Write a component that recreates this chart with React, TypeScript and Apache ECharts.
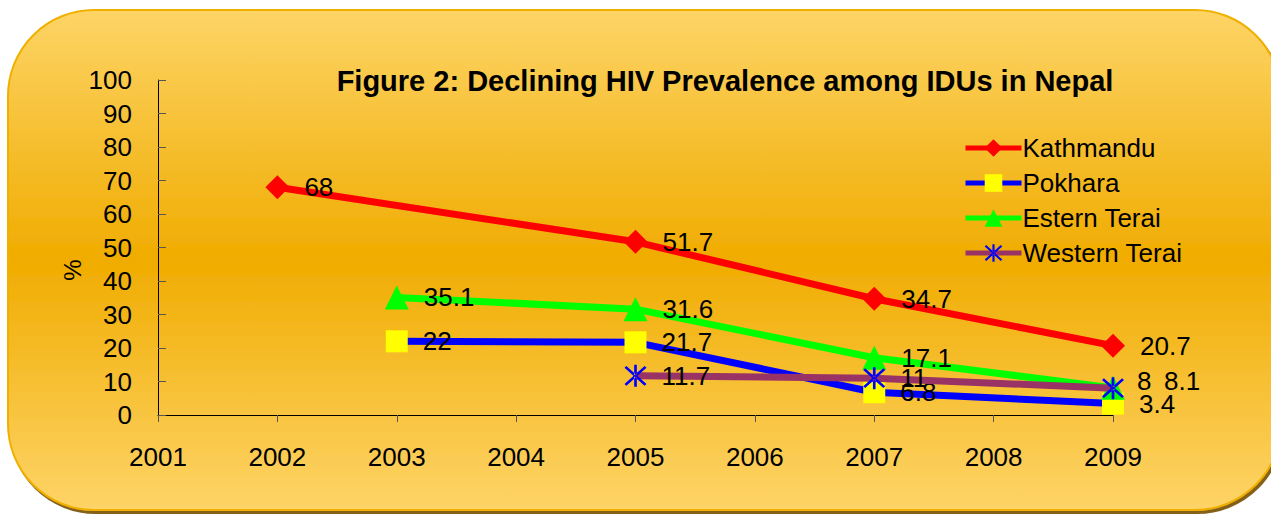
import React, { useEffect, useRef } from "react";
import * as echarts from "echarts";

const years = [2001, 2002, 2003, 2004, 2005, 2006, 2007, 2008, 2009];
const seriesNames = ["Kathmandu", "Pokhara", "Estern Terai", "Western Terai"];
const kathmandu: [number, number][] = [[2002, 68], [2005, 51.7], [2007, 34.7], [2009, 20.7]];
const pokhara: [number, number][] = [[2003, 22], [2005, 21.7], [2007, 6.8], [2009, 3.4]];
const esternTerai: [number, number][] = [[2003, 35.1], [2005, 31.6], [2007, 17.1], [2009, 8.1]];
const westernTerai: [number, number][] = [[2005, 11.7], [2007, 11], [2009, 8]];
const yTicks = [0, 10, 20, 30, 40, 50, 60, 70, 80, 90, 100];

const FONT = "'Liberation Sans', Arial, sans-serif";

const asterisk =
  "path://M-1.2,-11 L1.2,-11 L1.2,11 L-1.2,11 Z " +
  "M-9.85,-8.15 L8.15,9.85 L9.85,8.15 L-8.15,-9.85 Z " +
  "M-8.15,9.85 L9.85,-8.15 L8.15,-9.85 L-9.85,8.15 Z";

export default function App() {
  const ref = useRef<HTMLDivElement>(null);
  useEffect(() => {
    if (!ref.current) return;
    const chart = echarts.init(ref.current, undefined, { renderer: "svg" });
    const label = {
      show: true,
      position: "right" as const,
      distance: 15,
      color: "#000",
      fontSize: 26,
      fontFamily: FONT,
    };
    const mk = (
      name: string,
      data: any[],
      lineColor: string,
      symbol: string,
      symbolSize: number,
      symColor: string,
      z: number
    ) => ({
      name,
      type: "line",
      data,
      symbol,
      symbolSize,
      showAllSymbol: true,
      lineStyle: { color: lineColor, width: 7 },
      itemStyle: { color: symColor, borderWidth: 0 },
      label,
      z,
    });
    const plain = (arr: [number, number][]) => arr.map((d) => ({ value: d }));
    const esternData = esternTerai.map((d, i) =>
      i === esternTerai.length - 1
        ? { value: d, label: { offset: [24, -7] } }
        : { value: d }
    );
    const westernData = westernTerai.map((d, i) =>
      i === westernTerai.length - 1 ? { value: d, label: { offset: [-2, -7] } } : { value: d }
    );
    const series = [
      mk(seriesNames[0], plain(kathmandu), "#FF0000", "diamond", 24, "#FF0000", 5),
      mk(seriesNames[1], plain(pokhara), "#0000FF", "rect", 22, "#FFFF00", 3),
      mk(seriesNames[2], esternData, "#00FF00", "triangle", 24, "#00FF00", 4),
      mk(seriesNames[3], westernData, "#993366", asterisk, 22, "#0000FF", 6),
    ];

    chart.setOption({
      animation: false,
      graphic: [
        {
          type: "rect",
          z: -10,
          silent: true,
          shape: { x: 8, y: 10, width: 1273, height: 500, r: 86 },
          style: {
            fill: new echarts.graphic.LinearGradient(0, 0, 0, 1, [
              { offset: 0, color: "#FDD466" },
              { offset: 0.5, color: "#F0AC00" },
              { offset: 1, color: "#FED468" },
            ]),
            stroke: "#F0B000",
            lineWidth: 2,
            shadowColor: "rgba(120,80,0,0.9)",
            shadowBlur: 1,
            shadowOffsetX: 2,
            shadowOffsetY: 3,
          },
        },
        {
          type: "text",
          x: 72,
          y: 270,
          rotation: Math.PI / 2,
          style: {
            text: "%",
            align: "center",
            verticalAlign: "middle",
            font: `24px ${FONT}`,
            fill: "#000",
          },
        },
      ],
      title: {
        text: "Figure 2: Declining HIV Prevalence among IDUs in Nepal",
        left: 720,
        textAlign: "center",
        top: 61,
        textStyle: { fontSize: 29, fontWeight: "bold", fontFamily: FONT, color: "#000" },
      },
      legend: {
        orient: "vertical",
        left: 958,
        top: 130,
        itemWidth: 56,
        itemHeight: 22,
        itemGap: 9,
        lineStyle: { width: 5 },
        textStyle: { fontSize: 26, fontFamily: FONT, color: "#000", padding: [0, 0, 0, -4] },
        data: seriesNames,
      },
      grid: { left: 158, right: 158, top: 80, bottom: 99, containLabel: false },
      xAxis: {
        type: "value",
        min: years[0],
        max: years[years.length - 1],
        interval: 1,
        axisLine: { show: true, lineStyle: { color: "#000", width: 1 } },
        axisTick: { show: true, length: 7, lineStyle: { color: "#555" } },
        splitLine: { show: false },
        axisLabel: {
          margin: 29,
          fontSize: 26,
          fontFamily: FONT,
          color: "#000",
          formatter: (v: number) => String(v),
        },
      },
      yAxis: {
        type: "value",
        min: yTicks[0],
        max: yTicks[yTicks.length - 1],
        interval: 10,
        axisLine: { show: true, lineStyle: { color: "#000", width: 1 } },
        axisTick: { show: true, inside: true, length: 8, lineStyle: { color: "#555" } },
        splitLine: { show: false },
        axisLabel: { margin: 26, fontSize: 26, fontFamily: FONT, color: "#000" },
      },
      series,
    });
    return () => chart.dispose();
  }, []);
  return <div ref={ref} style={{ width: 1271, height: 514, position: "absolute", left: 0, top: 0 }} />;
}
